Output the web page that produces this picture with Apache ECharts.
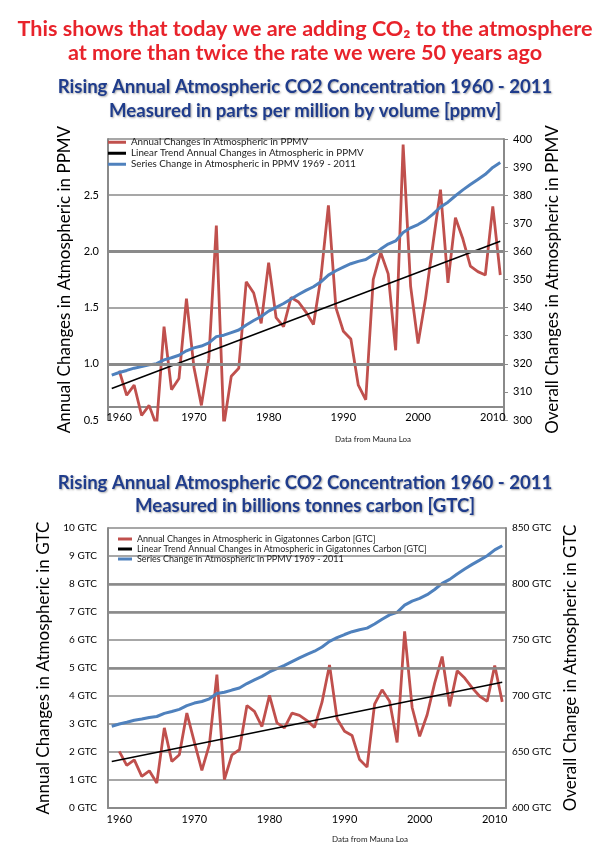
<!DOCTYPE html>
<html><head><meta charset="utf-8">
<script src="https://cdn.jsdelivr.net/npm/echarts@6/dist/echarts.min.js"></script>
<style>html,body{margin:0;padding:0;background:#fff}#c{width:610px;height:863px}</style>
</head><body><div id="c"></div>
<script>
// ---- data ----
const years = ['1959','1960','1961','1962','1963','1964','1965','1966','1967','1968','1969',
 '1970','1971','1972','1973','1974','1975','1976','1977','1978','1979',
 '1980','1981','1982','1983','1984','1985','1986','1987','1988','1989',
 '1990','1991','1992','1993','1994','1995','1996','1997','1998','1999',
 '2000','2001','2002','2003','2004','2005','2006','2007','2008','2009',
 '2010','2011'];
const xTickLabels = ['1960','1970','1980','1990','2000','2010'];

// top chart (ppmv)
const annualPpmv = [null,
 0.94,0.72,0.81,0.54,0.63,0.45,1.33,0.77,0.87,1.58,
 0.97,0.63,1.05,2.23,0.45,0.89,0.96,1.73,1.63,1.36,
 1.90,1.41,1.33,1.59,1.55,1.46,1.35,1.77,2.41,1.50,
 1.29,1.22,0.81,0.68,1.75,1.99,1.80,1.12,2.95,1.69,
 1.18,1.58,2.07,2.55,1.72,2.30,2.11,1.87,1.82,1.79,
 2.40,1.79];
const seriesPpmv = [315.97,
 316.91,317.64,318.45,318.99,319.62,320.04,321.38,322.16,323.04,324.62,
 325.68,326.32,327.45,329.68,330.18,331.11,332.04,333.83,335.40,336.84,
 338.75,340.11,341.45,343.05,344.65,346.12,347.42,349.19,351.57,353.12,
 354.39,355.61,356.45,357.10,358.83,360.82,362.61,363.73,366.70,368.38,
 369.55,371.14,373.28,375.80,377.52,379.80,381.90,383.79,385.60,387.43,
 389.90,391.65];
const trendYears = ['1959','2011'];
const trendPpmv = [0.78, 2.09];
const leftTicksPpmv = {min:0.5, max:3.0, step:0.5};
const rightTicksPpmv = {min:300, max:400, step:10};

// bottom chart (GTC)
const annualGtc = [null,
 2.02,1.52,1.72,1.13,1.33,0.89,2.86,1.66,1.90,3.39,
 2.35,1.34,2.26,4.76,1.01,1.90,2.08,3.66,3.45,2.91,
 4.02,3.04,2.86,3.39,3.31,3.12,2.88,3.78,5.11,3.19,
 2.74,2.59,1.73,1.46,3.71,4.22,3.81,2.34,6.31,3.59,
 2.56,3.33,4.46,5.41,3.63,4.90,4.64,4.29,3.99,3.81,
 5.09,3.79];
const seriesGtc = [673.0,
 675.0,676.6,678.3,679.4,680.8,681.7,684.5,686.2,688.1,691.4,
 693.7,695.1,697.5,702.2,703.3,705.3,707.2,711.1,714.4,717.5,
 721.5,724.4,727.3,730.7,734.1,737.2,740.0,743.8,748.8,752.1,
 754.9,757.4,759.2,760.6,764.3,768.5,772.4,774.7,781.1,784.7,
 787.1,790.5,795.1,800.5,804.1,809.0,813.4,817.5,821.3,825.2,
 830.5,834.2];
const trendGtc = [1.66, 4.49];
const leftTicksGtc = {min:0, max:10, step:1};
const rightTicksGtc = {min:600, max:850, step:50};

const namesTop = ['Annual Changes in Atmospheric in PPMV',
 'Linear Trend Annual Changes in Atmospheric in PPMV',
 'Series Change in Atmospheric in PPMV 1969 - 2011'];
const namesBot = ['Annual Changes in Atmospheric in Gigatonnes Carbon [GTC]',
 'Linear Trend Annual Changes in Atmospheric in Gigatonnes Carbon [GTC]',
 'Series Change in Atmospheric in PPMV 1969 - 2011'];

// ---- styling ----
const FONT = "Lato, 'DejaVu Sans', sans-serif";
const GRID = '#8a8a8a';
const NONE = 'rgba(0,0,0,0)';
const RED = '#c0504d', BLUE = '#4f81bd', BLACK = '#000';
const navy = {color:'#1f3c8c', fontSize:18.6, fontWeight:'bold', fontFamily:FONT,
  textShadowColor:'rgba(0,0,0,0.35)', textShadowOffsetX:1, textShadowOffsetY:1, textShadowBlur:2};
const redT = {color:'#e8232b', fontSize:21.6, fontWeight:'bold', fontFamily:FONT};
const small = {color:'#222', fontSize:8, fontWeight:'normal', fontFamily:FONT};
const axisName = {fontSize:17, color:'#000', fontFamily:FONT};
const tickTxt = {fontSize:11, color:'#000', fontFamily:FONT};

const pair = (ys, vs) => ys.map((y,i)=>[y, vs[i]]);

const chart = echarts.init(document.getElementById('c'));
chart.setOption({
  animation:false,
  backgroundColor:'#fff',
  title:[
    {text:'This shows that today we are adding CO\u2082 to the atmosphere', left:'center', top:18, padding:0, textStyle:redT},
    {text:'at more than twice the rate we were 50 years ago', left:'center', top:42, padding:0, textStyle:redT},
    {text:'Rising Annual Atmospheric CO2 Concentration 1960 - 2011', left:'center', top:77, padding:0, textStyle:navy},
    {text:'Measured in parts per million by volume [ppmv]', left:'center', top:101, padding:0, textStyle:navy},
    {text:'Rising Annual Atmospheric CO2 Concentration 1960 - 2011', left:'center', top:473, padding:0, textStyle:navy},
    {text:'Measured in billions tonnes carbon [GTC]', left:'center', top:496, padding:0, textStyle:navy},
    {text:'Data from Mauna Loa', left:335, top:435, padding:0, textStyle:small},
    {text:'Data from Mauna Loa', left:332, top:835, padding:0, textStyle:small}
  ],
  legend:[
    {orient:'vertical', left:108, top:137, padding:0, itemWidth:18, itemHeight:3, itemGap:0.5, icon:'rect',
     selectedMode:false, data:namesTop, textStyle:{fontSize:9.8, color:'#222', fontFamily:FONT, lineHeight:10.5}},
    {orient:'vertical', left:118, top:534, padding:0, itemWidth:14, itemHeight:3, itemGap:0, icon:'rect',
     selectedMode:false, data:namesBot, textStyle:{fontSize:9, color:'#222', fontFamily:FONT, lineHeight:10}}
  ],
  grid:[
    {left:108, top:139, right:106, bottom:443},
    {left:108, top:528, right:104, bottom:55}
  ],
  xAxis:[
    {gridIndex:0, type:'category', data:years, boundaryGap:true, offset:-13,
     axisLine:{lineStyle:{color:GRID, width:2}}, axisTick:{show:false},
     axisLabel:Object.assign({interval:(i,v)=>xTickLabels.includes(v), margin:5}, tickTxt)},
    {gridIndex:1, type:'category', data:years, boundaryGap:true,
     axisLine:{lineStyle:{color:GRID, width:2}}, axisTick:{show:false},
     axisLabel:Object.assign({interval:(i,v)=>xTickLabels.includes(v), margin:6}, tickTxt)}
  ],
  yAxis:[
    {gridIndex:0, type:'value', position:'left', min:leftTicksPpmv.min, max:leftTicksPpmv.max, interval:leftTicksPpmv.step,
     axisLine:{show:true, lineStyle:{color:GRID, width:2}}, axisTick:{show:false},
     splitLine:{lineStyle:{color:[NONE, GRID, GRID, GRID, GRID, GRID], width:1.5}},
     axisLabel:Object.assign({margin:9, formatter:v=> v===leftTicksPpmv.max ? '' : v.toFixed(1)}, tickTxt),
     name:'Annual Changes in Atmospheric in PPMV', nameLocation:'middle', nameRotate:90, nameGap:35, nameTextStyle:axisName},
    {gridIndex:0, type:'value', position:'right', min:rightTicksPpmv.min, max:rightTicksPpmv.max, interval:rightTicksPpmv.step,
     axisLine:{show:true, lineStyle:{color:GRID, width:2}}, axisTick:{show:true, length:4, lineStyle:{color:GRID}},
     splitLine:{show:false},
     axisLabel:Object.assign({margin:9}, tickTxt),
     name:'Overall Changes in Atmospheric in PPMV', nameLocation:'middle', nameRotate:90, nameGap:40, nameTextStyle:axisName},
    {gridIndex:1, type:'value', position:'left', min:leftTicksGtc.min, max:leftTicksGtc.max, interval:leftTicksGtc.step,
     axisLine:{show:true, lineStyle:{color:GRID, width:2}}, axisTick:{show:false},
     splitLine:{lineStyle:{color:GRID, width:1.5}},
     axisLabel:Object.assign({margin:11, formatter:v=> v+' GTC'}, tickTxt, {fontSize:10}),
     name:'Annual Changes in Atmospheric in GTC', nameLocation:'middle', nameRotate:90, nameGap:47, nameTextStyle:axisName},
    {gridIndex:1, type:'value', position:'right', min:rightTicksGtc.min, max:rightTicksGtc.max, interval:rightTicksGtc.step,
     axisLine:{show:true, lineStyle:{color:GRID, width:2}}, axisTick:{show:false},
     splitLine:{show:false},
     axisLabel:Object.assign({margin:6, formatter:v=> v+' GTC'}, tickTxt, {fontSize:10}),
     name:'Overall Change in Atmospheric in GTC', nameLocation:'middle', nameRotate:90, nameGap:54, nameTextStyle:axisName}
  ],
  series:[
    {type:'line', name:'_g0', xAxisIndex:0, yAxisIndex:0, data:[], z:1, silent:true,
     markLine:{silent:true, symbol:'none', label:{show:false}, animation:false,
       lineStyle:{color:GRID, width:3, type:'solid'}, data:[{yAxis:1.0},{yAxis:2.0}]}},
    {type:'line', name:namesTop[0], xAxisIndex:0, yAxisIndex:0, data:annualPpmv, showSymbol:false,
     lineStyle:{color:RED, width:2.8}, itemStyle:{color:RED}},
    {type:'line', name:namesTop[1], xAxisIndex:0, yAxisIndex:0, data:pair(trendYears, trendPpmv), showSymbol:false,
     lineStyle:{color:BLACK, width:1.5}, itemStyle:{color:BLACK}},
    {type:'line', name:namesTop[2], xAxisIndex:0, yAxisIndex:1, data:seriesPpmv, showSymbol:false,
     lineStyle:{color:BLUE, width:3}, itemStyle:{color:BLUE}},

    {type:'line', name:'_g1', xAxisIndex:1, yAxisIndex:2, data:[], z:1, silent:true,
     markLine:{silent:true, symbol:'none', label:{show:false}, animation:false,
       lineStyle:{color:GRID, width:2.6, type:'solid'}, data:[{yAxis:5},{yAxis:7},{yAxis:8}]}},
    {type:'line', name:namesBot[0], xAxisIndex:1, yAxisIndex:2, data:annualGtc, showSymbol:false,
     lineStyle:{color:RED, width:2.8}, itemStyle:{color:RED}},
    {type:'line', name:namesBot[1], xAxisIndex:1, yAxisIndex:2, data:pair(trendYears, trendGtc), showSymbol:false,
     lineStyle:{color:BLACK, width:1.5}, itemStyle:{color:BLACK}},
    {type:'line', name:namesBot[2], xAxisIndex:1, yAxisIndex:3, data:seriesGtc, showSymbol:false,
     lineStyle:{color:BLUE, width:3}, itemStyle:{color:BLUE}}
  ]
});
</script></body></html>
